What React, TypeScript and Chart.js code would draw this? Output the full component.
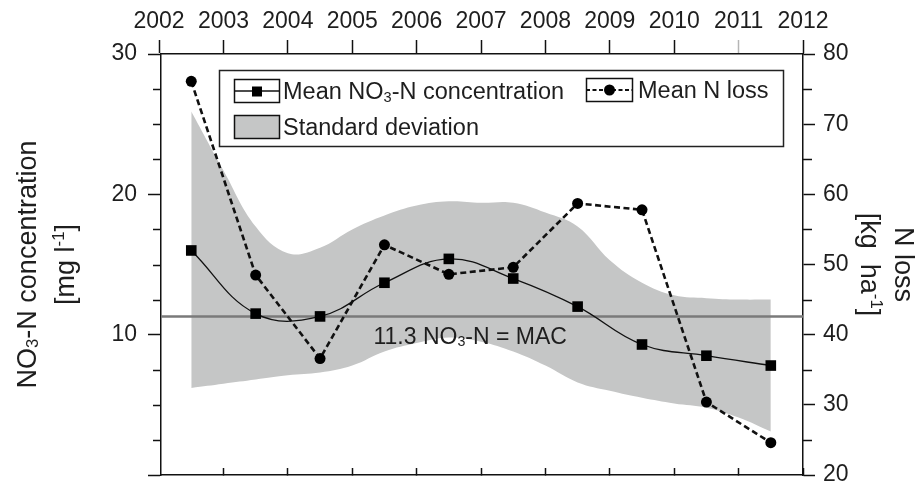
import React, { useEffect, useRef } from 'react';
import { Chart, registerables } from 'chart.js';

Chart.register(...registerables);

// ---------------- data ----------------
const yearTicks = [2002, 2003, 2004, 2005, 2006, 2007, 2008, 2009, 2010, 2011, 2012];
const sampleYears = [2002.5, 2003.5, 2004.5, 2005.5, 2006.5, 2007.5, 2008.5, 2009.5, 2010.5, 2011.5];
const meanNO3 = [16.0, 11.5, 11.3, 13.7, 15.4, 14.0, 12.0, 9.3, 8.5, 7.8];
const meanNLoss = [76.1, 48.5, 36.6, 52.8, 48.6, 49.6, 58.7, 57.8, 30.4, 24.6];

const sdYears = [2002.5, 2003, 2003.5, 2004, 2004.5, 2005, 2005.5, 2006, 2006.5, 2007, 2007.5, 2008, 2008.5, 2009, 2009.5, 2010, 2010.5, 2011, 2011.5];
const sdUpper = [25.9, 21.7, 17.7, 15.8, 16.2, 17.5, 18.5, 19.2, 19.5, 19.4, 19.4, 18.7, 17.7, 15.3, 13.7, 12.8, 12.6, 12.5, 12.5];
const sdLower = [6.2, 6.5, 6.8, 7.1, 7.3, 7.8, 8.8, 9.4, 9.8, 9.5, 8.8, 7.8, 6.6, 6.0, 5.5, 5.1, 4.8, 4.1, 3.1];

const macValue = 11.3;
const macSpan = [2002, 2012];

const yearMin = 2002.03;
const yearMax = 2012;

const leftTicks = [0, 10, 20, 30];
const leftMinorTicks = [2.5, 5, 7.5, 12.5, 15, 17.5, 22.5, 25, 27.5];
const rightTicks = [20, 30, 40, 50, 60, 70, 80];
const rightMinorTicks = [25, 35, 45, 55, 65, 75];

// ---------------- styling helpers ----------------
const FAMILY = "'Liberation Sans', Arial, Helvetica, sans-serif";
const TEXT = '#1e1e1e';
const AXIS = '#111111';
const BAND = '#c5c6c6';

type Part = { t: string; s?: 'sub' | 'sup' };

function drawParts(ctx: CanvasRenderingContext2D, parts: Part[], x: number, yCenter: number, size: number, align: 'left' | 'center') {
  const widths = parts.map((p) => {
    ctx.font = `${p.s ? size * 0.62 : size}px ${FAMILY}`;
    return ctx.measureText(p.t).width;
  });
  const total = widths.reduce((a, b) => a + b, 0);
  let cx = align === 'center' ? x - total / 2 : x;
  const base = yCenter + size * 0.358;
  ctx.textAlign = 'left';
  ctx.textBaseline = 'alphabetic';
  parts.forEach((p, i) => {
    ctx.font = `${p.s ? size * 0.62 : size}px ${FAMILY}`;
    const dy = p.s === 'sub' ? size * 0.1 : p.s === 'sup' ? -size * 0.36 : 0;
    ctx.fillText(p.t, cx, base + dy);
    cx += widths[i];
  });
}

const zeroPad = (s: any) => {
  s.paddingTop = 0;
  s.paddingBottom = 0;
  s.paddingLeft = 0;
  s.paddingRight = 0;
};

const decorPlugin = {
  id: 'decor',
  afterDraw(chart: any) {
    const ctx: CanvasRenderingContext2D = chart.ctx;
    const ca = chart.chartArea;
    const yS = chart.scales.y;
    const y2S = chart.scales.y2;
    const xS = chart.scales.x;
    ctx.save();

    // minor ticks
    ctx.strokeStyle = AXIS;
    ctx.lineWidth = 1.5;
    ctx.beginPath();
    leftMinorTicks.forEach((v) => {
      const py = Math.round(yS.getPixelForValue(v)) + 0.5;
      ctx.moveTo(ca.left - 8, py);
      ctx.lineTo(ca.left, py);
    });
    rightMinorTicks.forEach((v) => {
      const py = Math.round(y2S.getPixelForValue(v)) + 0.5;
      ctx.moveTo(ca.right, py);
      ctx.lineTo(ca.right + 9, py);
    });
    ctx.stroke();

    ctx.fillStyle = TEXT;
    const midY = (ca.top + ca.bottom) / 2;

    // left title
    ctx.save();
    ctx.translate(26, midY);
    ctx.rotate(-Math.PI / 2);
    drawParts(ctx, [{ t: 'NO' }, { t: '3', s: 'sub' }, { t: '-N concentration' }], 0, 0, 27, 'center');
    ctx.restore();
    ctx.save();
    ctx.translate(64, midY);
    ctx.rotate(-Math.PI / 2);
    drawParts(ctx, [{ t: '[mg l' }, { t: '-1', s: 'sup' }, { t: ']' }], 0, 0, 27, 'center');
    ctx.restore();

    // right title
    ctx.save();
    ctx.translate(905, midY);
    ctx.rotate(Math.PI / 2);
    drawParts(ctx, [{ t: 'N loss' }], 0, 0, 27, 'center');
    ctx.restore();
    ctx.save();
    ctx.translate(871, midY);
    ctx.rotate(Math.PI / 2);
    drawParts(ctx, [{ t: '[kg  ha' }, { t: '-1', s: 'sup' }, { t: ']' }], 0, 0, 27, 'center');
    ctx.restore();

    // MAC label
    drawParts(
      ctx,
      [{ t: '11.3 NO' }, { t: '3', s: 'sub' }, { t: '-N = MAC' }],
      xS.getPixelForValue(2005.33),
      yS.getPixelForValue(macValue) + 19,
      23,
      'left'
    );

    // legend
    const bx = ca.left + 58;
    const by = ca.top + 16;
    const bw = 564;
    const bh = 76;
    ctx.fillStyle = '#ffffff';
    ctx.fillRect(bx, by, bw, bh);
    ctx.strokeStyle = '#222';
    ctx.lineWidth = 1.5;
    ctx.strokeRect(bx + 0.5, by + 0.5, bw, bh);

    // symbol 1: concentration
    const s1x = bx + 15, s1y = by + 9;
    ctx.strokeStyle = '#111';
    ctx.lineWidth = 1.5;
    ctx.strokeRect(s1x + 0.5, s1y + 0.5, 45, 23);
    ctx.beginPath();
    ctx.moveTo(s1x, s1y + 12);
    ctx.lineTo(s1x + 45, s1y + 12);
    ctx.stroke();
    ctx.fillStyle = '#000';
    ctx.fillRect(s1x + 18, s1y + 7.5, 10, 10);

    // symbol 2: N loss
    const s2x = bx + 367, s2y = by + 8;
    ctx.strokeRect(s2x + 0.5, s2y + 0.5, 46, 23);
    ctx.save();
    ctx.setLineDash([4, 2.5]);
    ctx.lineWidth = 2;
    ctx.beginPath();
    ctx.moveTo(s2x, s2y + 12);
    ctx.lineTo(s2x + 46, s2y + 12);
    ctx.stroke();
    ctx.restore();
    ctx.beginPath();
    ctx.arc(s2x + 23.5, s2y + 12, 5.5, 0, Math.PI * 2);
    ctx.fill();

    // symbol 3: SD band
    const s3x = bx + 15, s3y = by + 45;
    ctx.fillStyle = BAND;
    ctx.fillRect(s3x, s3y, 45, 23);
    ctx.strokeRect(s3x + 0.5, s3y + 0.5, 45, 23);

    ctx.fillStyle = TEXT;
    drawParts(ctx, [{ t: 'Mean NO' }, { t: '3', s: 'sub' }, { t: '-N concentration' }], bx + 64, by + 21, 23.5, 'left');
    drawParts(ctx, [{ t: 'Mean N loss' }], bx + 419, by + 20, 23.5, 'left');
    drawParts(ctx, [{ t: 'Standard deviation' }], bx + 64, by + 57, 23.5, 'left');

    ctx.restore();
  },
};

export default function App() {
  const ref = useRef<HTMLCanvasElement>(null);

  useEffect(() => {
    document.body.style.margin = '0';
    const canvas = ref.current;
    if (!canvas) return;

    const xy = (xs: number[], ys: number[]) => xs.map((x, i) => ({ x, y: ys[i] }));

    const chart = new Chart(canvas, {
      type: 'line',
      data: {
        datasets: [
          {
            label: 'Mean N loss',
            data: xy(sampleYears, meanNLoss),
            xAxisID: 'x',
            yAxisID: 'y2',
            borderColor: '#111',
            borderWidth: 2.6,
            borderDash: [6, 3.5],
            tension: 0,
            pointStyle: 'circle',
            pointRadius: 5.5,
            pointBackgroundColor: '#000',
            pointBorderColor: '#000',
            pointBorderWidth: 0,
            fill: false,
            order: 0,
          },
          {
            label: 'Mean NO3-N concentration',
            data: xy(sampleYears, meanNO3),
            xAxisID: 'x',
            yAxisID: 'y',
            borderColor: '#111',
            borderWidth: 1.3,
            tension: 0.4,
            pointStyle: 'rect',
            pointRadius: 7.5,
            pointBackgroundColor: '#000',
            pointBorderColor: '#000',
            pointBorderWidth: 0,
            fill: false,
            order: 1,
          },
          {
            label: 'MAC',
            data: macSpan.map((x) => ({ x, y: macValue })),
            xAxisID: 'x',
            yAxisID: 'y',
            borderColor: '#7a7a7a',
            borderWidth: 2.5,
            pointRadius: 0,
            fill: false,
            order: 3,
          },
          {
            label: 'SD upper',
            data: xy(sdYears, sdUpper),
            xAxisID: 'x',
            yAxisID: 'y',
            borderWidth: 0,
            borderColor: 'rgba(0,0,0,0)',
            backgroundColor: BAND,
            pointRadius: 0,
            tension: 0.4,
            fill: 4,
            order: 4,
          },
          {
            label: 'SD lower',
            data: xy(sdYears, sdLower),
            xAxisID: 'x',
            yAxisID: 'y',
            borderWidth: 0,
            borderColor: 'rgba(0,0,0,0)',
            pointRadius: 0,
            tension: 0.4,
            fill: false,
            order: 5,
          },
        ],
      },
      options: {
        responsive: false,
        animation: false,
        devicePixelRatio: 1,
        layout: { padding: 0, autoPadding: false },
        plugins: {
          legend: { display: false },
          tooltip: { enabled: false },
        },
        scales: {
          x: {
            type: 'linear',
            position: 'top',
            min: yearMin,
            max: yearMax,
            afterBuildTicks: (s: any) => {
              s.ticks = yearTicks.map((v) => ({ value: v }));
            },
            afterFit: (s: any) => {
              s.height = 54;
              zeroPad(s);
            },
            ticks: {
              autoSkip: false,
              maxRotation: 0,
              padding: 5,
              color: TEXT,
              font: { size: 23, family: FAMILY },
              callback: (v: any) => String(v),
            },
            grid: {
              drawOnChartArea: false,
              drawTicks: true,
              tickLength: 14,
              tickWidth: 1.5,
              tickColor: (c: any) => (c.tick && c.tick.value === 2011 ? '#b5b5b5' : AXIS),
            },
            border: { display: true, color: AXIS, width: 1.5 },
          },
          xb: {
            type: 'linear',
            position: 'bottom',
            min: yearMin,
            max: yearMax,
            afterBuildTicks: (s: any) => {
              s.ticks = yearTicks.filter((v) => v > yearMin).map((v) => ({ value: v }));
            },
            afterFit: (s: any) => {
              s.height = 7;
              zeroPad(s);
            },
            ticks: { display: false },
            grid: {
              drawOnChartArea: false,
              drawTicks: true,
              tickLength: -7,
              tickWidth: 1.5,
              tickColor: AXIS,
            },
            border: { display: true, color: AXIS, width: 1.5 },
          },
          y: {
            type: 'linear',
            position: 'left',
            min: 0,
            max: 30,
            afterBuildTicks: (s: any) => {
              s.ticks = leftTicks.map((v) => ({ value: v }));
            },
            afterFit: (s: any) => {
              s.width = 161;
              zeroPad(s);
            },
            ticks: {
              padding: 11,
              color: TEXT,
              font: { size: 23, family: FAMILY },
              callback: (v: any) => (v === 0 ? '' : String(v)),
            },
            grid: {
              drawOnChartArea: false,
              drawTicks: true,
              tickLength: 13,
              tickWidth: 1.5,
              tickColor: AXIS,
            },
            border: { display: true, color: AXIS, width: 1.5 },
          },
          y2: {
            type: 'linear',
            position: 'right',
            min: 20,
            max: 80,
            afterBuildTicks: (s: any) => {
              s.ticks = rightTicks.map((v) => ({ value: v }));
            },
            afterFit: (s: any) => {
              s.width = 117;
              zeroPad(s);
            },
            ticks: {
              padding: 8,
              color: TEXT,
              font: { size: 23, family: FAMILY },
              callback: (v: any) => String(v),
            },
            grid: {
              drawOnChartArea: false,
              drawTicks: true,
              tickLength: 12,
              tickWidth: 1.5,
              tickColor: AXIS,
            },
            border: { display: true, color: AXIS, width: 1.5 },
          },
        },
      } as any,
      plugins: [decorPlugin],
    });

    return () => chart.destroy();
  }, []);

  return (
    <div style={{ width: 920, height: 482 }}>
      <canvas ref={ref} width={920} height={482} style={{ display: 'block' }} />
    </div>
  );
}
